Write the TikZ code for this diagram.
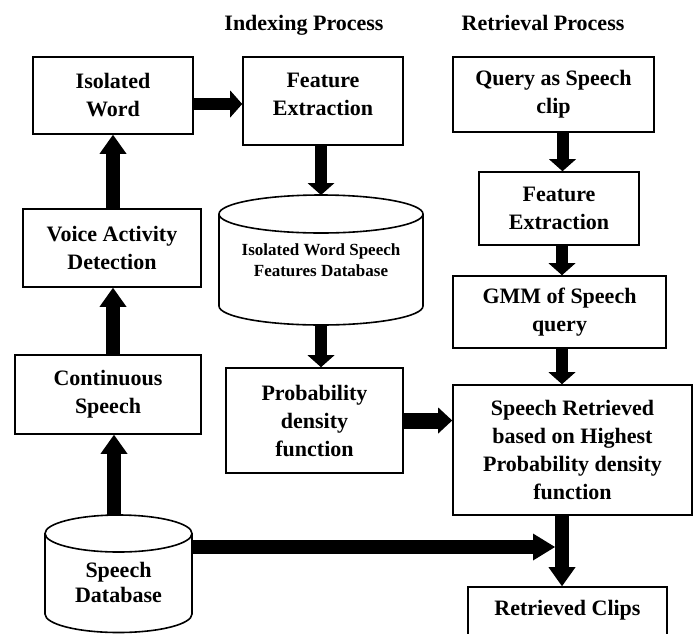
\documentclass[tikz,border=0pt]{standalone}
\usepackage{fontspec}
\setmainfont{Liberation Serif}
\usetikzlibrary{arrows.meta,calc}
\begin{document}
\begin{tikzpicture}[x=1pt,y=-1pt,
  box/.style={draw, line width=1.6pt, rectangle, align=center, inner sep=0pt,
    font=\fontsize{22}{28}\selectfont\bfseries},
  txt/.style={align=center, inner sep=0pt, font=\fontsize{22}{28}\selectfont\bfseries},
  cyl/.style={draw, line width=1.6pt},
  fat/.style={line width=12pt, -{Triangle[length=12pt,width=27pt,line width=0pt]}},
  fatL/.style={line width=14pt, -{Triangle[length=19pt,width=27pt,line width=0pt]}},
  fatH/.style={line width=14pt, -{Triangle[length=22pt,width=27pt,line width=0pt]}},
  fatP/.style={line width=16pt, -{Triangle[length=14pt,width=26pt,line width=0pt]}}
]
\useasboundingbox (0,0) rectangle (696,633);

% titles
\node[txt, anchor=base] (t1) at (304,30) {Indexing Process};
\node[txt, anchor=base] (t2) at (543,30) {Retrieval Process};

% boxes
\node[box, minimum width=160pt, minimum height=77pt] (iw) at (113,95.5) {Isolated\\Word};
\node[box, minimum width=160pt, minimum height=88pt] (fe1) at (323,101) {};
\node[txt] (fe1t) at (323,94) {Feature\\Extraction};
\node[box, minimum width=178pt, minimum height=78pt] (vad) at (112,248) {Voice Activity\\Detection};
\node[box, minimum width=186pt, minimum height=79pt] (cs) at (108,394.5) {Continuous\\Speech};
\node[box, minimum width=201pt, minimum height=75pt] (q) at (553.5,94.5) {Query as Speech\\clip};
\node[box, minimum width=160pt, minimum height=73pt] (fe2) at (559,208.5) {Feature\\Extraction};
\node[box, minimum width=213pt, minimum height=72pt] (gmm) at (559.5,312) {GMM of Speech\\query};
\node[box, minimum width=177pt, minimum height=105pt] (pdf) at (314.5,420.5) {Probability\\density\\function};
\node[box, minimum width=239pt, minimum height=130pt] (sr) at (572.5,450) {Speech Retrieved\\based on Highest\\Probability density\\function};
\node[box, minimum width=199pt, minimum height=52pt] (rc) at (567.5,613) {};
\node[txt] (rct) at (567.5,610) {Retrieved Clips};

% cylinder 1
\draw[cyl] (219,214) -- (219,306) arc[start angle=180, end angle=360, x radius=102pt, y radius=19pt] -- (423,214);
\draw[cyl] (321,214) ellipse[x radius=102pt, y radius=19pt];
\node[txt, font=\fontsize{17}{21}\selectfont\bfseries] (db1) at (321,260.5) {Isolated Word Speech\\Features Database};
\coordinate (db1top) at (321,195);
\coordinate (db1bot) at (321,325);

% cylinder 2
\draw[cyl] (45,533.5) -- (45,614) arc[start angle=180, end angle=360, x radius=73.5pt, y radius=18.5pt] -- (192,533.5);
\draw[cyl] (118.5,533.5) ellipse[x radius=73.5pt, y radius=18.5pt];
\node[txt, font=\fontsize{22}{25}\selectfont\bfseries] (db2) at (118.5,582.5) {Speech\\Database};
\coordinate (db2top) at (114,515);
\coordinate (db2east) at (192,547);
\coordinate (join) at (555,547);

% arrows
\draw[fatL] (db2top) -- (db2top |- cs.south);
\draw[fatL] ([xshift=5pt]cs.north) -- ([xshift=5pt]cs.north |- vad.south);
\draw[fatL] ([xshift=1pt]vad.north) -- ([xshift=1pt]vad.north |- iw.south);
\draw[fat] ([yshift=-8.5pt]iw.east) -- ([yshift=-8.5pt]iw.east -| fe1.west);
\draw[fat] ([xshift=-2pt]fe1.south) -- (db1top);
\draw[fat] (db1bot) -- (db1bot |- pdf.north);
\draw[fatP] (pdf.east) -- (pdf.east -| sr.west);
\draw[fat] ([xshift=9pt]q.south) -- ([xshift=9pt]q.south |- fe2.north);
\draw[fat] ([xshift=3pt]fe2.south) -- ([xshift=3pt]fe2.south |- gmm.north);
\draw[fat] ([xshift=2.5pt]gmm.south) -- ([xshift=2.5pt]gmm.south |- sr.north);
\draw[fatL] ([xshift=-10.5pt]sr.south) -- ([xshift=-10.5pt]sr.south |- rc.north);
\draw[fatH] (db2east) -- (join);
\end{tikzpicture}
\end{document}
